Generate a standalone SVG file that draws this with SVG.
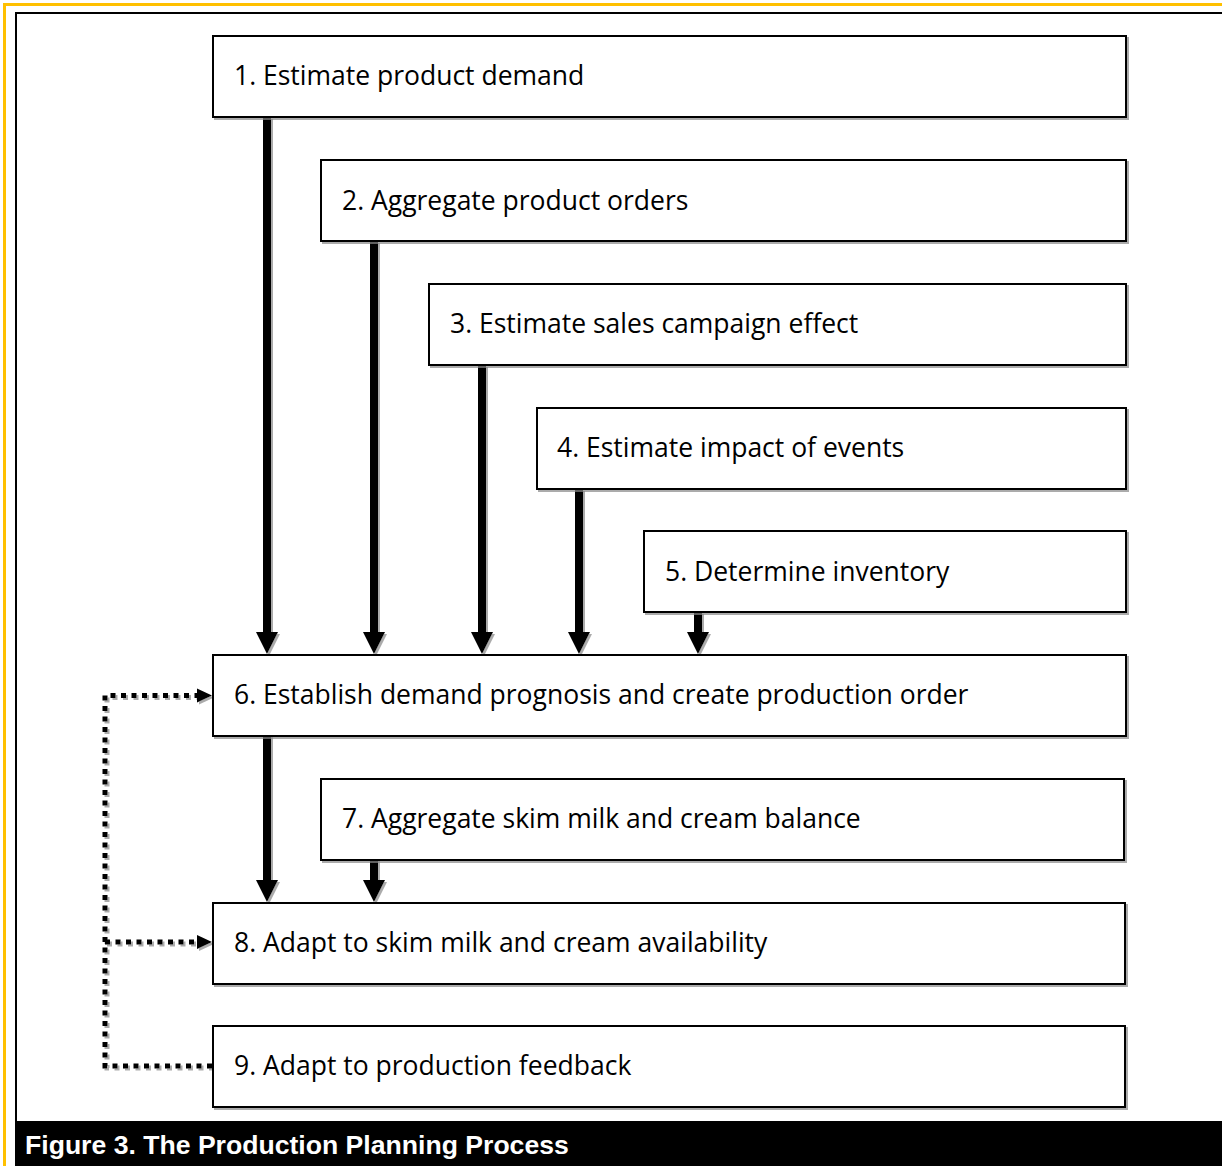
<svg xmlns="http://www.w3.org/2000/svg" width="1222" height="1166" viewBox="0 0 1222 1166">
<style>
.box{fill:#fff;stroke:#000;stroke-width:2}
.lbl{font-family:"Open Sans","Noto Sans",sans-serif;font-size:26.5px;fill:#000}
.shaft{stroke:#000;stroke-width:8;fill:none}
.dot{stroke:#000;stroke-width:5;fill:none;stroke-dasharray:5 5.5}
.cap{font-family:"Liberation Sans",Arial,sans-serif;font-weight:bold;font-size:26.6px;fill:#fff}
</style>
<defs>
<filter id="sh" x="-5%" y="-20%" width="110%" height="140%">
<feDropShadow dx="2" dy="2" stdDeviation="0.6" flood-color="#888" flood-opacity="0.7"/>
</filter>
</defs>
<rect width="1222" height="1166" fill="#fff"/>
<g id="frame">
<path d="M4.5,1166 V4.5 H1222" fill="none" stroke="#FFC000" stroke-width="3"/>
<path d="M16,1122 V13 H1222" fill="none" stroke="#000" stroke-width="2"/>
</g>
<g id="connectors" filter="url(#sh)">
<line class="shaft" x1="267" y1="117" x2="267" y2="634"/>
<path d="M256,632 H278 L267,654 Z"/>
<line class="shaft" x1="374" y1="241" x2="374" y2="634"/>
<path d="M363,632 H385 L374,654 Z"/>
<line class="shaft" x1="482" y1="365" x2="482" y2="634"/>
<path d="M471,632 H493 L482,654 Z"/>
<line class="shaft" x1="579" y1="489" x2="579" y2="634"/>
<path d="M568,632 H590 L579,654 Z"/>
<line class="shaft" x1="698" y1="612" x2="698" y2="634"/>
<path d="M687,632 H709 L698,654 Z"/>
<line class="shaft" x1="267" y1="735" x2="267" y2="882"/>
<path d="M256,880 H278 L267,902 Z"/>
<line class="shaft" x1="374" y1="859" x2="374" y2="882"/>
<path d="M363,880 H385 L374,902 Z"/>
<path class="dot" d="M212,1066 H105 V695.5 H197"/>
<path d="M197,688.5 L212,695.5 L197,702.5 Z"/>
<path class="dot" d="M105,942 H197"/>
<path d="M197,935 L212,942 L197,949 Z"/>
</g>
<g id="n1" filter="url(#sh)"><rect class="box" x="213" y="36" width="913" height="81"/></g>
<g id="n2" filter="url(#sh)"><rect class="box" x="321" y="160" width="805" height="81"/></g>
<g id="n3" filter="url(#sh)"><rect class="box" x="429" y="284" width="697" height="81"/></g>
<g id="n4" filter="url(#sh)"><rect class="box" x="537" y="408" width="589" height="81"/></g>
<g id="n5" filter="url(#sh)"><rect class="box" x="644" y="531" width="482" height="81"/></g>
<g id="n6" filter="url(#sh)"><rect class="box" x="213" y="655" width="913" height="81"/></g>
<g id="n7" filter="url(#sh)"><rect class="box" x="321" y="779" width="803" height="81"/></g>
<g id="n8" filter="url(#sh)"><rect class="box" x="213" y="903" width="912" height="81"/></g>
<g id="n9" filter="url(#sh)"><rect class="box" x="213" y="1026" width="912" height="81"/></g>
<g id="labels">
<text class="lbl" x="234" y="85">1. Estimate product demand</text>
<text class="lbl" x="342" y="210">2. Aggregate product orders</text>
<text class="lbl" x="450" y="333">3. Estimate sales campaign effect</text>
<text class="lbl" x="557" y="457">4. Estimate impact of events</text>
<text class="lbl" x="665" y="581">5. Determine inventory</text>
<text class="lbl" x="234" y="704">6. Establish demand prognosis and create production order</text>
<text class="lbl" x="342" y="828">7. Aggregate skim milk and cream balance</text>
<text class="lbl" x="234" y="952">8. Adapt to skim milk and cream availability</text>
<text class="lbl" x="234" y="1075">9. Adapt to production feedback</text>
</g>
<g id="caption">
<rect x="15" y="1121" width="1207" height="45" fill="#000"/>
<text class="cap" x="25" y="1154">Figure 3. The Production Planning Process</text>
</g>
</svg>
